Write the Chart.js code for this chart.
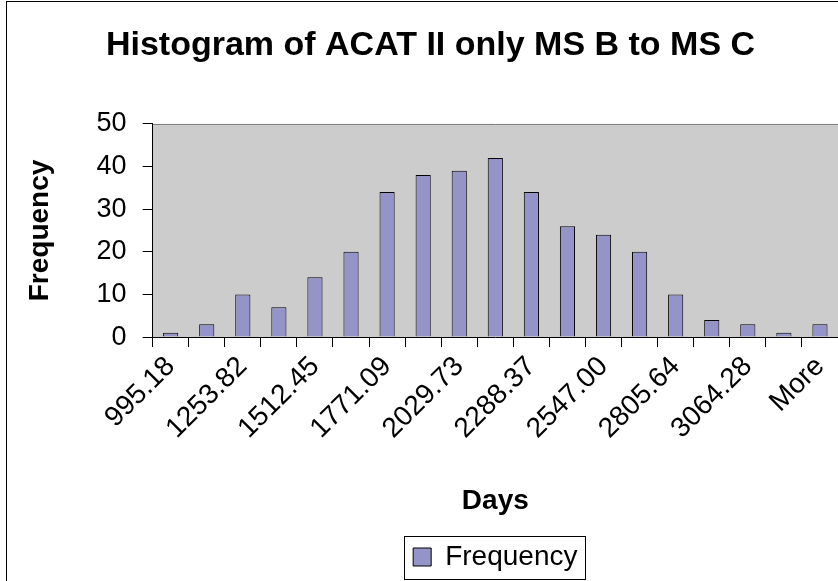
<!DOCTYPE html>
<html>
<head>
<meta charset="utf-8">
<script src="https://cdn.jsdelivr.net/npm/chart.js@4/dist/chart.umd.min.js"></script>
<style>
  html, body { margin: 0; padding: 0; background: #fff; }
  canvas { display: block; }
</style>
</head>
<body>
<canvas id="histChart" width="838" height="581"></canvas>
<script>
// bin upper limits (Excel histogram output)
const binLabels = [
  "995.18", "1124.50", "1253.82", "1383.13", "1512.45", "1641.77", "1771.09",
  "1900.41", "2029.73", "2159.05", "2288.37", "2417.69", "2547.00", "2676.32",
  "2805.64", "2934.96", "3064.28", "3193.60", "More"
];
const frequency = [1, 3, 10, 7, 14, 20, 34, 38, 39, 42, 34, 26, 24, 20, 10, 4, 3, 1, 3];
const yTicks = [0, 10, 20, 30, 40, 50];

const chartTitle = "Histogram of ACAT II only MS B to MS C";
const xTitle = "Days";
const yTitle = "Frequency";
const fontFamily = "'Liberation Sans', Arial, sans-serif";

// grey plot area, outer frame and the boxed legend
const framePlugin = {
  id: "frame",
  beforeDraw(chart) {
    const { ctx, chartArea: a } = chart;
    ctx.save();
    ctx.fillStyle = "#ffffff";
    ctx.fillRect(0, 0, chart.width, chart.height);
    ctx.fillStyle = "#cccccc";
    ctx.fillRect(a.left, a.top, a.right - a.left, a.bottom - a.top);
    ctx.strokeStyle = "#808080";
    ctx.lineWidth = 1;
    ctx.beginPath();
    ctx.moveTo(a.left, Math.round(a.top) + 0.5);
    ctx.lineTo(a.right, Math.round(a.top) + 0.5);
    ctx.stroke();
    ctx.strokeStyle = "#000000";
    ctx.strokeRect(6.5, 1.5, chart.width + 20, chart.height + 20);
    ctx.restore();
  },
  afterDraw(chart) {
    const boxes = chart.legend && chart.legend.legendHitBoxes;
    if (!boxes || !boxes.length) return;
    const b = boxes[0];
    const cy = b.top + b.height / 2;
    const { ctx } = chart;
    ctx.save();
    ctx.strokeStyle = "#000000";
    ctx.lineWidth = 1;
    ctx.strokeRect(Math.round(b.left - 9) + 0.5, Math.round(cy - 21.5) + 0.5,
      Math.round(b.width + 17), 43);
    ctx.restore();
  }
};

new Chart(document.getElementById("histChart"), {
  type: "bar",
  data: {
    labels: binLabels,
    datasets: [{
      label: "Frequency",
      data: frequency,
      backgroundColor: "#9494c9",
      borderColor: "#000000",
      borderWidth: 1,
      barPercentage: 0.42,
      categoryPercentage: 1.0
    }]
  },
  options: {
    responsive: false,
    animation: false,
    layout: { padding: { left: 23, right: 0, top: 25, bottom: 0 } },
    plugins: {
      title: {
        display: true,
        text: chartTitle,
        color: "#000",
        font: { family: fontFamily, size: 34, weight: "bold" },
        padding: { top: 0, bottom: 58 }
      },
      legend: {
        position: "bottom",
        fullSize: false,
        labels: {
          color: "#000",
          font: { family: fontFamily, size: 28 },
          boxWidth: 18,
          boxHeight: 18,
          padding: 10
        }
      },
      tooltip: { enabled: false }
    },
    scales: {
      x: {
        grid: { drawOnChartArea: false, color: "#000", tickLength: 10, offset: true },
        border: { color: "#000" },
        afterFit: (scale) => { scale.paddingRight = 0; },
        ticks: {
          autoSkip: false,
          minRotation: 45,
          maxRotation: 45,
          padding: 3,
          color: "#000",
          font: { family: fontFamily, size: 28 },
          callback: (v, i) => (i % 2 === 0 ? binLabels[i] : "")
        },
        title: {
          display: true,
          text: xTitle,
          color: "#000",
          font: { family: fontFamily, size: 28, weight: "bold" },
          padding: { top: 36, bottom: 15 }
        }
      },
      y: {
        min: yTicks[0],
        max: yTicks[yTicks.length - 1],
        afterBuildTicks: (scale) => { scale.ticks = yTicks.map((v) => ({ value: v })); },
        grid: { drawOnChartArea: false, color: "#000", tickLength: 10 },
        border: { color: "#000" },
        ticks: {
          padding: 16,
          color: "#000",
          font: { family: fontFamily, size: 27 }
        },
        title: {
          display: true,
          text: yTitle,
          color: "#000",
          font: { family: fontFamily, size: 28, weight: "bold" },
          padding: { top: 0, bottom: 24 }
        }
      }
    }
  },
  plugins: [framePlugin]
});
</script>
</body>
</html>
